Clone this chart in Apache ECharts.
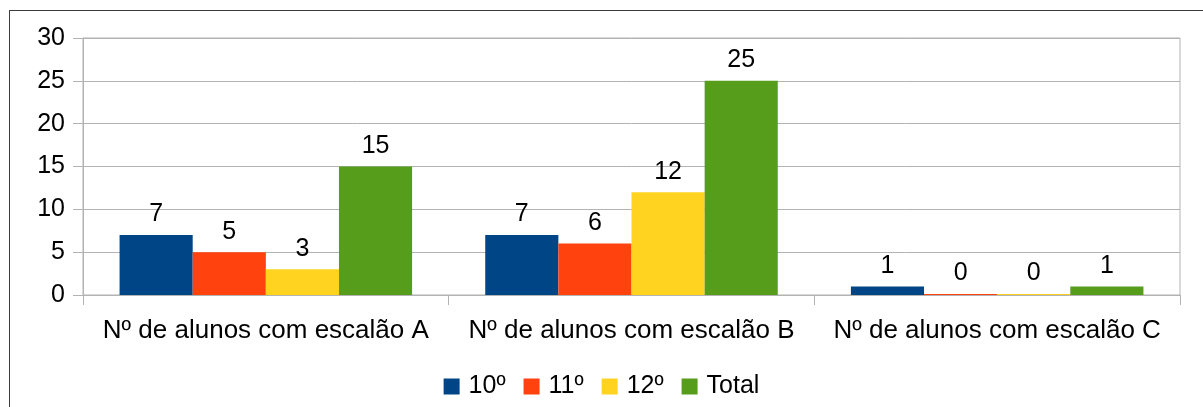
<!DOCTYPE html>
<html>
<head>
<meta charset="utf-8">
<script src="https://cdn.jsdelivr.net/npm/echarts@6/dist/echarts.min.js"></script>
<style>
  html, body { margin: 0; padding: 0; background: #fff; }
  #frame { position: absolute; left: 9px; top: 10px; width: 1194px; height: 397px;
           border-left: 1px solid #3c3c3c; border-top: 1px solid #3c3c3c; }
  #chart { position: absolute; left: 0; top: 0; width: 1203px; height: 407px; }
</style>
</head>
<body>
<div id="frame"></div>
<div id="chart"></div>
<script>
  'use strict'

  var categories = ['Nº de alunos com escalão A', 'Nº de alunos com escalão B', 'Nº de alunos com escalão C'];
  var seriesNames = ['10º', '11º', '12º', 'Total'];
  var values10 = [7, 7, 1];
  var values11 = [5, 6, 0];
  var values12 = [3, 12, 0];
  var valuesTotal = [15, 25, 1];
  var colors = ['#004586', '#ff420e', '#ffd320', '#579d1c'];

  var font = 'Liberation Sans, Arial, sans-serif';

  function makeSeries(name, data) {
    return {
      name: name,
      type: 'bar',
      data: data,
      barGap: '0%',
      barCategoryGap: '20%',
      barMinHeight: 1,
      label: {
        show: true,
        position: 'top',
        distance: 8,
        color: '#000',
        fontSize: 25,
        fontFamily: font
      }
    };
  }

  var option = {
    animation: false,
    color: colors,
    grid: {
      left: 83,
      right: 23,
      top: 38,
      bottom: 112,
      show: true,
      borderColor: '#b3b3b3',
      borderWidth: 1
    },
    legend: {
      data: seriesNames,
      bottom: 3,
      left: 'center',
      itemWidth: 16,
      itemHeight: 16,
      itemGap: 18,
      icon: 'rect',
      textStyle: { fontSize: 25, color: '#000', fontFamily: font, padding: [0, 0, 0, 4] }
    },
    xAxis: {
      type: 'category',
      data: categories,
      axisLine: { lineStyle: { color: '#b3b3b3' } },
      axisTick: { show: true, length: 10, lineStyle: { color: '#b3b3b3' } },
      axisLabel: { interval: 0, fontSize: 26, color: '#000', fontFamily: font, margin: 23 }
    },
    yAxis: {
      type: 'value',
      min: 0,
      max: 30,
      interval: 5,
      axisLine: { show: true, lineStyle: { color: '#b3b3b3' } },
      axisTick: { show: true, length: 10, lineStyle: { color: '#b3b3b3' } },
      splitLine: { lineStyle: { color: '#b3b3b3' } },
      axisLabel: { fontSize: 25, color: '#000', fontFamily: font, margin: 18 }
    },
    series: [
      makeSeries(seriesNames[0], values10),
      makeSeries(seriesNames[1], values11),
      makeSeries(seriesNames[2], values12),
      makeSeries(seriesNames[3], valuesTotal)
    ]
  };

  var chart = echarts.init(document.getElementById('chart'));
  chart.setOption(option);
</script>
</body>
</html>
